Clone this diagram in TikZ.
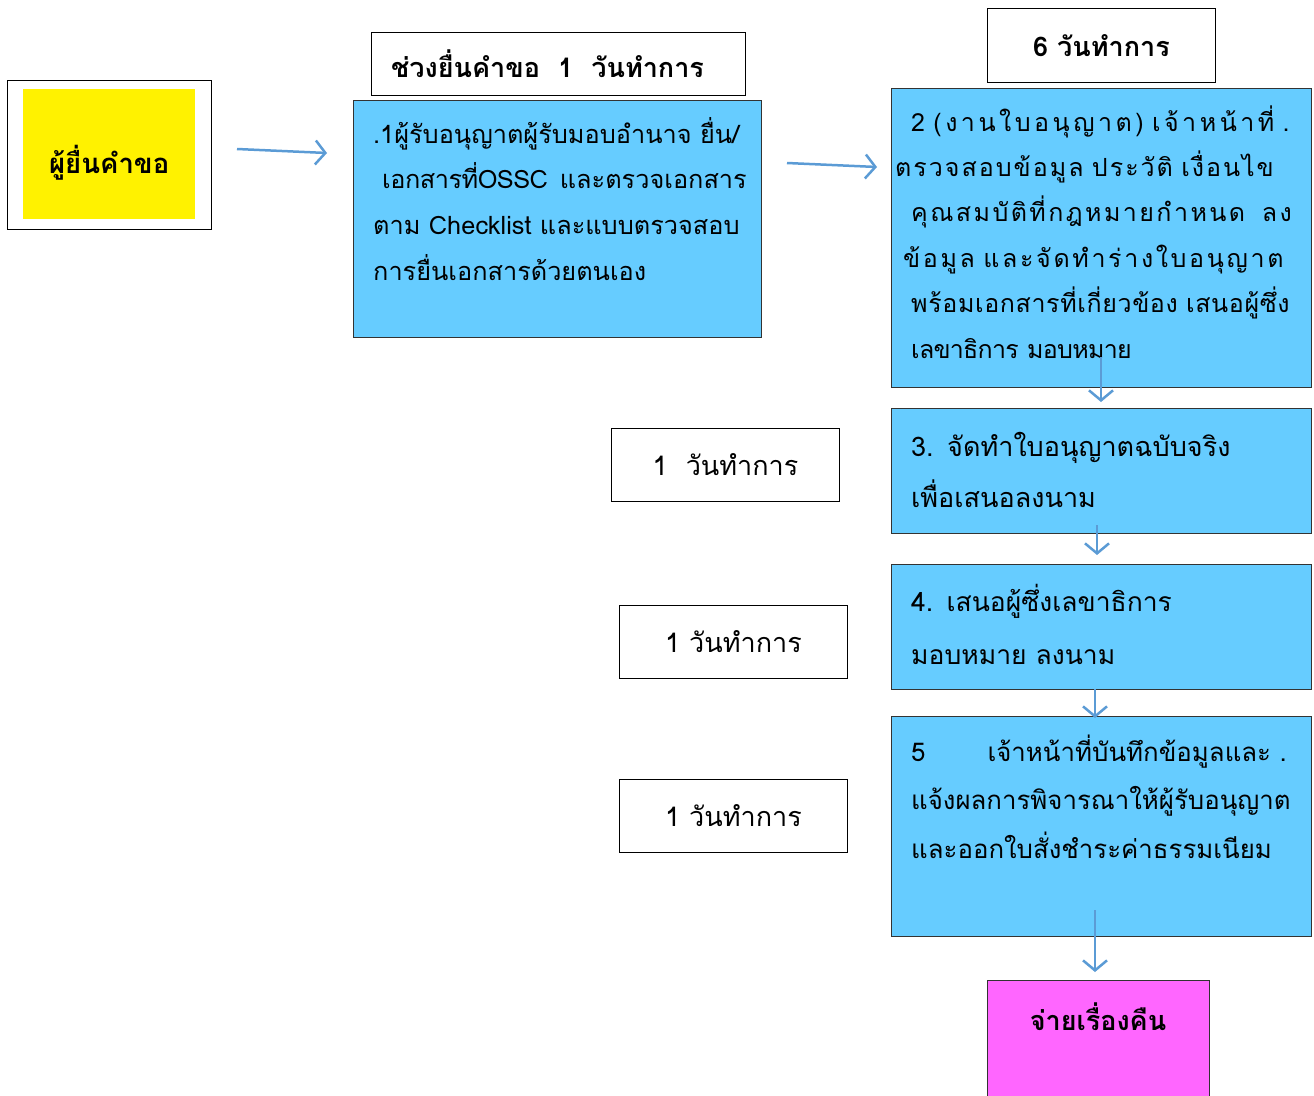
\documentclass[tikz,border=0pt]{standalone}
\usepackage{fontspec}
\newfontfamily\thai[Script=Thai]{Loma}
\usetikzlibrary{arrows.meta}
\definecolor{azul}{HTML}{66CCFF}
\definecolor{seta}{HTML}{5B9BD5}
\definecolor{rosa}{HTML}{FF66FF}
\definecolor{borda}{HTML}{333333}
\begin{document}
\begin{tikzpicture}[x=1pt,y=-1pt,
    quadro/.style={draw=black,line width=1pt,fill=white,inner sep=0pt,anchor=north west},
    caixa/.style={draw=borda,line width=1pt,fill=azul,inner sep=0pt,anchor=north west},
    texto/.style={anchor=base west,inner sep=0pt,text width=410pt,align=left},
    passo/.style={-{Straight Barb[length=10pt,width=24pt,line width=2.5pt]},seta,line width=2.5pt}]
        \useasboundingbox (0,0) rectangle (1314,1095);
        % Define os nos
        \node[quadro, minimum width=204, minimum height=149] (A) at (7,80) {};
        \node[fill=yellow, minimum width=172, minimum height=130, anchor=north west] (B) at (23,89) {};
        \node[font=\thai\bfseries\fontsize{27.5}{30}\selectfont] (B1) at ([yshift=-9pt]B.center) {ผู้ยื่นคำขอ};
        \node[quadro, minimum width=374, minimum height=63,
              font=\thai\bfseries\fontsize{27}{30}\selectfont] (C) at (371,32) {ช่วงยื่นคำขอ~~1~~วันทำการ\hspace*{22pt}};
        \node[caixa, minimum width=408, minimum height=237] (D) at (353,100) {};
        \node[texto, font=\thai\fontsize{25.3}{45.7}\selectfont] (D1) at (373,143)
            {.1ผู้รับอนุญาตผู้รับมอบอำนาจ ยื่น/\\
             \hspace*{9pt}{\addfontfeature{LetterSpace=-2}เอกสารที่OSSC}\hspace{12pt}และตรวจเอกสาร\\
             ตาม Checklist และแบบตรวจสอบ\\
             การยื่นเอกสารด้วยตนเอง};
        \node[quadro, minimum width=228, minimum height=74,
              font=\thai\bfseries\fontsize{27}{30}\selectfont] (E) at (987,8) {6 วันทำการ};
        \node[caixa, minimum width=420, minimum height=299] (F) at (891,88) {};
        \node[texto, font=\thai\fontsize{25}{45.4}\selectfont] (F1) at (911,131)
            {{\addfontfeature{LetterSpace=14}2 (งานใบอนุญาต) เจ้าหน้าที่ .}\\
             \hspace*{-16pt}{\addfontfeature{LetterSpace=8}ตรวจสอบข้อมูล ประวัติ เงื่อนไข}\\
             {\addfontfeature{LetterSpace=9.7}คุณสมบัติที่กฎหมายกำหนด~~ลง}\\
             \hspace*{-8pt}{\addfontfeature{LetterSpace=10.6}ข้อมูล และจัดทำร่างใบอนุญาต}\\
             {\addfontfeature{LetterSpace=2.5}พร้อมเอกสารที่เกี่ยวข้อง เสนอผู้ซึ่ง}\\
             {\addfontfeature{LetterSpace=-3}เลขาธิการ มอบหมาย}};
        \node[caixa, minimum width=420, minimum height=125] (G) at (891,408) {};
        \node[texto, font=\thai\fontsize{27}{51}\selectfont] (G1) at (911,456)
            {3. จัดทำใบอนุญาตฉบับจริง\\
             เพื่อเสนอลงนาม};
        \node[caixa, minimum width=420, minimum height=125] (H) at (891,564) {};
        \node[texto, font=\thai\fontsize{26.5}{53}\selectfont] (H1) at (911,611)
            {4. เสนอผู้ซึ่งเลขาธิการ\\
             มอบหมาย ลงนาม};
        \node[caixa, minimum width=420, minimum height=220] (I) at (891,716) {};
        \node[texto, font=\thai\fontsize{25.8}{48.5}\selectfont] (I1) at (911,761)
            {5\hspace{62pt}เจ้าหน้าที่บันทึกข้อมูลและ .\\
             แจ้งผลการพิจารณาให้ผู้รับอนุญาต\\
             และออกใบสั่งชำระค่าธรรมเนียม};
        \node[fill=rosa, draw=borda, line width=1pt, minimum width=222, anchor=north,
              inner ysep=22pt, text depth=90pt,
              font=\thai\bfseries\fontsize{27}{30}\selectfont] (J) at (1098,980) {จ่ายเรื่องคืน};
        \node[quadro, minimum width=228, minimum height=73,
              font=\thai\fontsize{27}{30}\selectfont] (K) at (611,428) {1~~วันทำการ};
        \node[quadro, minimum width=228, minimum height=73,
              font=\thai\fontsize{27}{30}\selectfont] (L) at (619,605) {1 วันทำการ};
        \node[quadro, minimum width=228, minimum height=73,
              font=\thai\fontsize{27}{30}\selectfont] (M) at (619,779) {1 วันทำการ};
        % Pontas livres das setas
        \coordinate (p1) at (237,149);
        \coordinate (p2) at (327,153);
        \coordinate (p3) at (787,163);
        \coordinate (p4) at (877,167);
        \coordinate (p5) at (1101,357);
        \coordinate (p6) at (1097,525);
        \coordinate (p7) at (1095,689);
        \coordinate (p8) at (1095,910);
        % Conecta nos
        \draw[passo] (p1) -- (p2);
        \draw[passo] (p3) -- (p4);
        \draw[passo] (p5) -- ([yshift=6]p5 |- G.north);
        \draw[passo] (p6) -- ([yshift=9]p6 |- H.north);
        \draw[passo] (p7) -- ([yshift=-2]p7 |- I.north);
        \draw[passo] (p8) -- ([yshift=8]p8 |- J.north);
\end{tikzpicture}
\end{document}
